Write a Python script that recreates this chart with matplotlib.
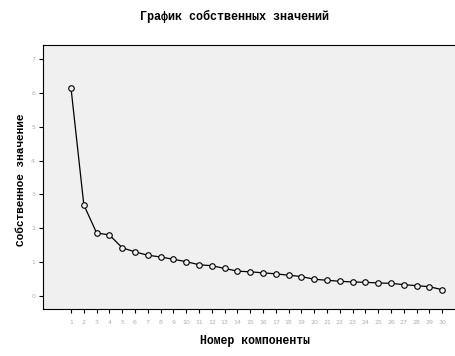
import numpy as np
import matplotlib
matplotlib.use("Agg")
import matplotlib.pyplot as plt

# eigenvalues
components = list(range(1, 31))
eigenvalues = [6.14, 2.69, 1.86, 1.80, 1.42, 1.30, 1.20, 1.15, 1.08, 1.01,
               0.92, 0.89, 0.81, 0.73, 0.71, 0.68, 0.65, 0.61, 0.57, 0.49,
               0.46, 0.43, 0.41, 0.40, 0.38, 0.37, 0.33, 0.30, 0.27, 0.18]
y_ticks = [0, 1, 2, 3, 4, 5, 6, 7]

title = "График собственных значений"
x_label = "Номер компоненты"
y_label = "Собственное значение"

bg = "#f0f0f0"
label_font = dict(family=["Liberation Mono", "DejaVu Sans Mono"], weight="bold")

fig = plt.figure(figsize=(4.56, 3.56), dpi=100, facecolor="white")
ax = fig.add_axes([43/456, 1-309/356, (455-43)/456, (309-45)/356], facecolor=bg)

ax.plot(components, eigenvalues, color="black", linewidth=0.9,
        marker="o", markersize=4, markerfacecolor=bg, markeredgecolor="black",
        markeredgewidth=0.8)

ax.set_xlim(-1.19, 31.0)
ax.set_ylim(-0.39, 7.42)
ax.set_xticks(components)
ax.set_yticks(y_ticks)
ax.tick_params(axis="both", direction="out", length=3.2, width=0.8,
               labelsize=4.5, labelcolor="#b0b0b0", color="black")
ax.tick_params(axis="x", pad=5)
ax.tick_params(axis="y", pad=2.5)

for side in ["top", "right", "left", "bottom"]:
    ax.spines[side].set_linewidth(0.8)
ax.spines["right"].set_visible(False)

fig.text(235/456, 1-16/356, title, ha="center", va="center", fontsize=8.5, **label_font)
fig.text(255/456, 1-341/356, x_label, ha="center", va="center", fontsize=8.3, **label_font)
fig.text(21/456, 1-180/356, y_label, ha="center", va="center", rotation=90,
         fontsize=8, **label_font)

fig.savefig("out.png", dpi=100, facecolor="white")
